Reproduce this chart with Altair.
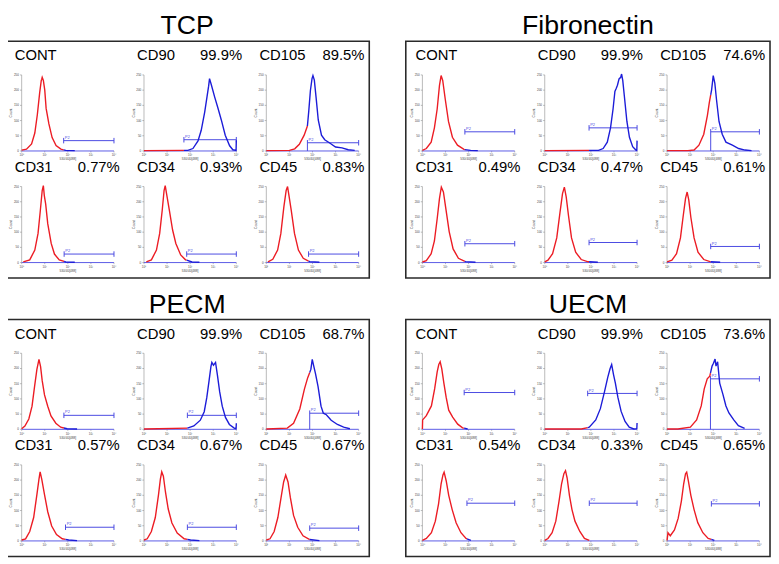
import altair as alt
import pandas as pd

GROUPS = ["TCP", "Fibronectin", "PECM", "UECM"]
MARKERS = ["CONT", "CD90", "CD105", "CD31", "CD34", "CD45"]

PCT_TCP = ["", "99.9%", "89.5%", "0.77%", "0.93%", "0.83%"]
PCT_FIB = ["", "99.9%", "74.6%", "0.49%", "0.47%", "0.61%"]
PCT_PECM = ["", "99.9%", "68.7%", "0.57%", "0.67%", "0.67%"]
PCT_UECM = ["", "99.9%", "73.6%", "0.54%", "0.33%", "0.65%"]

# gate start (log10 decade) and gate height (count) per marker
GATE_START_TCP = [1.82, 1.73, 1.78, 1.84, 1.85, 1.83]
GATE_Y_TCP = [34, 37, 27, 28, 28, 28]
GATE_START_FIB = [1.84, 1.92, 1.89, 1.84, 1.92, 1.89]
GATE_Y_FIB = [63, 76, 63, 62, 66, 53]
GATE_START_PECM = [1.83, 1.88, 1.88, 1.90, 1.88, 1.88]
GATE_Y_PECM = [46, 46, 53, 45, 45, 42]
GATE_START_UECM = [1.81, 1.86, 1.88, 1.93, 1.93, 1.92]
GATE_Y_UECM = [121, 118, 166, 124, 124, 122]

# histogram curves: (log10 decade, count)
CURVES_TCP = {
    "CONT": [(0, 3), (0.21, 6), (0.43, 23), (0.57, 59), (0.68, 120), (0.78, 191), (0.85, 232), (0.87, 236), (0.89, 242), (0.94, 232), (1.0, 201), (1.06, 140), (1.18, 89), (1.32, 44), (1.49, 18), (1.7, 6), (1.91, 2), (2.3, 1)],
    "CD90": [(0, 1), (1.9, 2), (2.12, 8), (2.34, 33), (2.48, 68), (2.63, 128), (2.73, 178), (2.8, 213), (2.84, 238), (2.92, 217), (3.06, 178), (3.2, 142), (3.35, 102), (3.52, 52), (3.71, 17), (3.85, 4), (3.99, 2), (4.0, 35)],
    "CD105": [(0, 1), (1.0, 2), (1.23, 7), (1.43, 22), (1.64, 52), (1.78, 82), (1.84, 132), (1.91, 199), (1.98, 238), (2.02, 248), (2.08, 233), (2.16, 173), (2.25, 102), (2.39, 52), (2.53, 37), (2.73, 27), (3.0, 13), (3.28, 10), (3.55, 4), (3.83, 2)],
    "CD31": [(0.07, 2), (0.35, 9), (0.57, 41), (0.71, 96), (0.81, 172), (0.89, 237), (0.94, 253), (0.98, 221), (1.04, 193), (1.13, 128), (1.28, 63), (1.42, 28), (1.63, 9), (1.91, 2), (2.3, 1)],
    "CD34": [(0.1, 2), (0.32, 9), (0.54, 41), (0.68, 96), (0.79, 172), (0.87, 237), (0.92, 253), (0.99, 221), (1.1, 172), (1.24, 107), (1.38, 63), (1.59, 25), (1.8, 9), (2.08, 2), (2.4, 1)],
    "CD45": [(0.07, 2), (0.28, 11), (0.49, 41), (0.63, 96), (0.76, 183), (0.86, 237), (0.92, 250), (0.97, 226), (1.08, 172), (1.22, 96), (1.39, 41), (1.6, 14), (1.88, 3), (2.3, 1)],
}
CURVES_FIB = {
    "CONT": [(0, 2), (0.17, 8), (0.38, 29), (0.52, 76), (0.64, 138), (0.74, 216), (0.81, 248), (0.88, 232), (0.99, 170), (1.13, 97), (1.3, 45), (1.52, 19), (1.8, 5), (2.09, 2), (2.4, 1)],
    "CD90": [(0, 1), (2.33, 2), (2.53, 8), (2.71, 29), (2.85, 76), (2.96, 138), (3.04, 196), (3.1, 206), (3.15, 216), (3.22, 237), (3.29, 242), (3.33, 253), (3.38, 232), (3.45, 180), (3.56, 97), (3.67, 45), (3.81, 14), (3.95, 3), (3.99, 2), (4.0, 34)],
    "CD105": [(0, 1), (0.9, 1), (1.17, 3), (1.38, 19), (1.59, 55), (1.75, 118), (1.83, 159), (1.93, 201), (2.0, 248), (2.07, 222), (2.14, 170), (2.25, 97), (2.39, 55), (2.55, 29), (2.83, 19), (3.1, 8), (3.38, 3), (3.66, 1)],
    "CD31": [(0, 2), (0.17, 6), (0.38, 29), (0.52, 71), (0.64, 144), (0.74, 211), (0.82, 248), (0.91, 232), (1.02, 175), (1.16, 102), (1.33, 45), (1.56, 14), (1.87, 3), (2.3, 1)],
    "CD34": [(0, 2), (0.14, 8), (0.34, 29), (0.52, 81), (0.66, 164), (0.77, 227), (0.85, 248), (0.93, 216), (1.03, 154), (1.16, 81), (1.34, 34), (1.58, 10), (1.85, 3), (2.3, 1)],
    "CD45": [(0, 2), (0.21, 8), (0.41, 29), (0.58, 81), (0.7, 154), (0.8, 211), (0.87, 232), (0.94, 206), (1.03, 149), (1.17, 81), (1.34, 34), (1.59, 10), (1.86, 3), (2.3, 1)],
}
CURVES_PECM = {
    "CONT": [(0, 2), (0.14, 11), (0.31, 34), (0.45, 76), (0.56, 141), (0.66, 197), (0.75, 230), (0.82, 206), (0.89, 160), (0.99, 113), (1.13, 76), (1.27, 44), (1.48, 20), (1.69, 7), (1.97, 2), (2.4, 1)],
    "CD90": [(0, 1), (1.88, 4), (2.16, 11), (2.44, 30), (2.61, 58), (2.72, 104), (2.82, 160), (2.9, 206), (2.94, 220), (3.01, 211), (3.1, 220), (3.18, 179), (3.28, 123), (3.39, 76), (3.53, 39), (3.7, 16), (3.91, 4), (3.99, 2), (4.0, 20)],
    "CD105": [(0, 1), (0.91, 4), (1.18, 20), (1.45, 67), (1.65, 132), (1.79, 169), (1.86, 183), (1.93, 197), (1.99, 230), (2.06, 206), (2.13, 183), (2.24, 141), (2.37, 76), (2.47, 53), (2.6, 48), (2.81, 30), (3.08, 16), (3.35, 7), (3.62, 2)],
    "CD31": [(0, 3), (0.17, 7), (0.35, 31), (0.52, 77), (0.66, 152), (0.75, 203), (0.8, 227), (0.87, 203), (0.99, 152), (1.13, 96), (1.3, 49), (1.51, 21), (1.76, 7), (2.04, 3), (2.4, 1)],
    "CD34": [(0, 3), (0.14, 7), (0.32, 31), (0.49, 77), (0.63, 152), (0.71, 203), (0.77, 227), (0.84, 213), (0.93, 161), (1.05, 105), (1.21, 59), (1.44, 26), (1.74, 7), (2.02, 3), (2.4, 1)],
    "CD45": [(0, 3), (0.16, 7), (0.34, 31), (0.5, 77), (0.64, 143), (0.75, 194), (0.84, 217), (0.94, 194), (1.04, 143), (1.18, 84), (1.36, 45), (1.59, 17), (1.86, 5), (2.3, 1)],
}
CURVES_UECM = {
    "CONT": [(0, 1), (0.01, 31), (0.17, 45), (0.39, 77), (0.53, 133), (0.64, 189), (0.71, 213), (0.77, 222), (0.84, 199), (0.93, 152), (1.03, 105), (1.14, 63), (1.31, 40), (1.53, 17), (1.74, 5), (1.96, 1)],
    "CD90": [(0, 1), (1.59, 1), (1.93, 7), (2.21, 31), (2.41, 68), (2.59, 124), (2.73, 171), (2.83, 199), (2.9, 213), (2.98, 180), (3.06, 152), (3.17, 105), (3.31, 59), (3.48, 26), (3.66, 7), (3.86, 1), (3.99, 2), (4.0, 21)],
    "CD105": [(0, 1), (0.47, 1), (1.01, 7), (1.28, 31), (1.48, 77), (1.61, 133), (1.74, 166), (1.85, 175), (1.95, 208), (2.01, 217), (2.08, 231), (2.12, 208), (2.19, 222), (2.28, 152), (2.42, 115), (2.55, 77), (2.68, 54), (2.89, 31), (3.09, 12), (3.36, 3)],
    "CD31": [(0, 2), (0.17, 8), (0.39, 27), (0.56, 65), (0.7, 122), (0.81, 188), (0.89, 217), (0.94, 226), (1.03, 198), (1.14, 150), (1.29, 103), (1.46, 60), (1.67, 27), (1.89, 8), (2.1, 2)],
    "CD34": [(0, 2), (0.14, 8), (0.32, 27), (0.48, 65), (0.62, 131), (0.73, 188), (0.83, 221), (0.9, 231), (0.97, 207), (1.07, 150), (1.18, 103), (1.31, 65), (1.52, 31), (1.72, 8), (1.93, 2)],
    "CD45": [(0, 2), (0.04, 27), (0.14, 17), (0.32, 36), (0.48, 74), (0.62, 131), (0.72, 188), (0.8, 221), (0.85, 226), (0.92, 198), (1.03, 150), (1.17, 103), (1.33, 60), (1.55, 27), (1.78, 8), (2.05, 2)],
}

Y_TICKS = [0, 50, 100, 150, 200, 250]
X_TICKS = [0, 1, 2, 3, 4]
X_TICK_LABELS = ["10⁰", "10¹", "10²", "10³", "10⁴"]
X_TITLE = "530/40[488]"
Y_TITLE = "Count"
GATE_NAME = "P2"

PCT = dict(zip(GROUPS, [PCT_TCP, PCT_FIB, PCT_PECM, PCT_UECM]))
CURVES = dict(zip(GROUPS, [CURVES_TCP, CURVES_FIB, CURVES_PECM, CURVES_UECM]))
GSTART = dict(zip(GROUPS, [GATE_START_TCP, GATE_START_FIB, GATE_START_PECM, GATE_START_UECM]))
GY = dict(zip(GROUPS, [GATE_Y_TCP, GATE_Y_FIB, GATE_Y_PECM, GATE_Y_UECM]))

RED = "#ec1c24"
BLUE = "#1c1cd8"
GATEC = "#4a4ae2"
AXC = "#8c8c8c"
FONT = "Liberation Sans"

recs = []
for g in GROUPS:
    for i, m in enumerate(MARKERS):
        base = dict(group=g, col=i % 3, row=i // 3)
        pts = CURVES[g][m]
        gs = GSTART[g][i]
        gy = GY[g][i]
        red = [p for p in pts if p[0] < gs]
        blue = [p for p in pts if p[0] >= gs]
        if red and blue:
            (x0, y0), (x1, y1) = red[-1], blue[0]
            yg = y0 + (y1 - y0) * (gs - x0) / (x1 - x0)
            red = red + [(gs, yg)]
            blue = [(gs, yg)] + blue
        for nm, seg, c in (("r", red, RED), ("b", blue, BLUE)):
            for k, (x, y) in enumerate(seg):
                recs.append(dict(base, kind="curve", seg=f"{g}-{m}-{nm}", color=c, x=x, y=y, ord=k))

        def rule(x, x2, y, y2, c, w):
            recs.append(dict(base, kind="rule", x=x, x2=x2, y=y, y2=y2, color=c, sw=w))

        rule(0, 0, 0, Y_TICKS[-1], AXC, 0.6)
        for t in Y_TICKS:
            rule(-0.07, 0, t, t, AXC, 0.6)
        for t in X_TICKS:
            rule(t, t, 0, -5, AXC, 0.6)
        rule(X_TICKS[0], X_TICKS[-1], 0, 0, "#5a5ae6", 1.0)
        rule(gs, X_TICKS[-1], gy, gy, GATEC, 1.0)
        rule(gs, gs, 0 if m == "CD105" else gy - 9, gy + 9, GATEC, 1.0)
        rule(X_TICKS[-1], X_TICKS[-1], gy - 9, gy + 9, GATEC, 1.0)

        recs.append(dict(base, kind="lab", x=-0.3, y=298, text=m))
        recs.append(dict(base, kind="pct", x=4.25, y=298, text=PCT[g][i]))
        recs.append(dict(base, kind="gl", x=gs + 0.05, y=gy + 3, text=GATE_NAME))
        for t in Y_TICKS:
            recs.append(dict(base, kind="yl", x=-0.12, y=t, text=str(t)))
        for t, lab in zip(X_TICKS, X_TICK_LABELS):
            recs.append(dict(base, kind="xl", x=t, y=-14, text=lab))
        recs.append(dict(base, kind="xt", x=2, y=-27, text=X_TITLE))
        recs.append(dict(base, kind="yt", x=-0.45, y=125, text=Y_TITLE))

df = pd.DataFrame(recs)
df["x2"] = df["x2"].fillna(df["x"])
df["y2"] = df["y2"].fillna(df["y"])

XS = alt.Scale(domain=[-0.72, 15.06], nice=False, zero=False)
YS = alt.Scale(domain=[-51, 728], nice=False, zero=False)
COLSTEP = 5.3
ROWSTEP = 367

X = alt.X("px:Q", scale=XS, axis=None)
Y = alt.Y("py:Q", scale=YS, axis=None)


def kind(k):
    return alt.datum.kind == k


curves = alt.Chart().mark_line(strokeWidth=1.4, interpolate="linear").encode(
    x=X, y=Y, color=alt.Color("color:N", scale=None), detail="seg:N", order="ord:Q"
).transform_filter(kind("curve"))

rules = alt.Chart().mark_rule().encode(
    x=X, x2="px2:Q", y=Y, y2="py2:Q",
    color=alt.Color("color:N", scale=None),
    strokeWidth=alt.StrokeWidth("sw:Q", scale=None),
).transform_filter(kind("rule"))

labs = alt.Chart().mark_text(align="left", baseline="alphabetic", fontSize=15, font=FONT, color="black").encode(
    x=X, y=Y, text="text:N").transform_filter(kind("lab"))
pcts = alt.Chart().mark_text(align="right", baseline="alphabetic", fontSize=15, font=FONT, color="black").encode(
    x=X, y=Y, text="text:N").transform_filter(kind("pct"))
gls = alt.Chart().mark_text(align="left", baseline="bottom", fontSize=4, font=FONT, color=GATEC).encode(
    x=X, y=Y, text="text:N").transform_filter(kind("gl"))
yls = alt.Chart().mark_text(align="right", baseline="middle", fontSize=3, font=FONT, color="#444").encode(
    x=X, y=Y, text="text:N").transform_filter(kind("yl"))
xls = alt.Chart().mark_text(align="center", baseline="middle", fontSize=3, font=FONT, color="#444").encode(
    x=X, y=Y, text="text:N").transform_filter(kind("xl"))
xts = alt.Chart().mark_text(align="center", baseline="middle", fontSize=3.2, font=FONT, color="#444").encode(
    x=X, y=Y, text="text:N").transform_filter(kind("xt"))
yts = alt.Chart().mark_text(align="center", baseline="middle", fontSize=3.4, angle=270, font=FONT, color="#444").encode(
    x=X, y=Y, text="text:N").transform_filter(kind("yt"))

layered = alt.layer(rules, curves, labs, pcts, gls, yls, xls, xts, yts, data=df).transform_calculate(
    px=f"datum.x + datum.col * {COLSTEP}",
    px2=f"datum.x2 + datum.col * {COLSTEP}",
    py=f"datum.y + (1 - datum.row) * {ROWSTEP}",
    py2=f"datum.y2 + (1 - datum.row) * {ROWSTEP}",
).properties(width=369, height=240)

chart = layered.facet(
    facet=alt.Facet("group:N", sort=GROUPS, title=None,
                    header=alt.Header(labelFontSize=27, labelFont=FONT, labelColor="black", labelPadding=1)),
    columns=2,
    spacing={"row": 11, "column": 35},
).configure_view(stroke="#2a2a2a", strokeWidth=1.6).properties(
    padding={"left": -4, "top": 0, "right": 0, "bottom": 0}, background="white")

chart.save("out.html", embed_options={"renderer": "svg", "actions": False})
